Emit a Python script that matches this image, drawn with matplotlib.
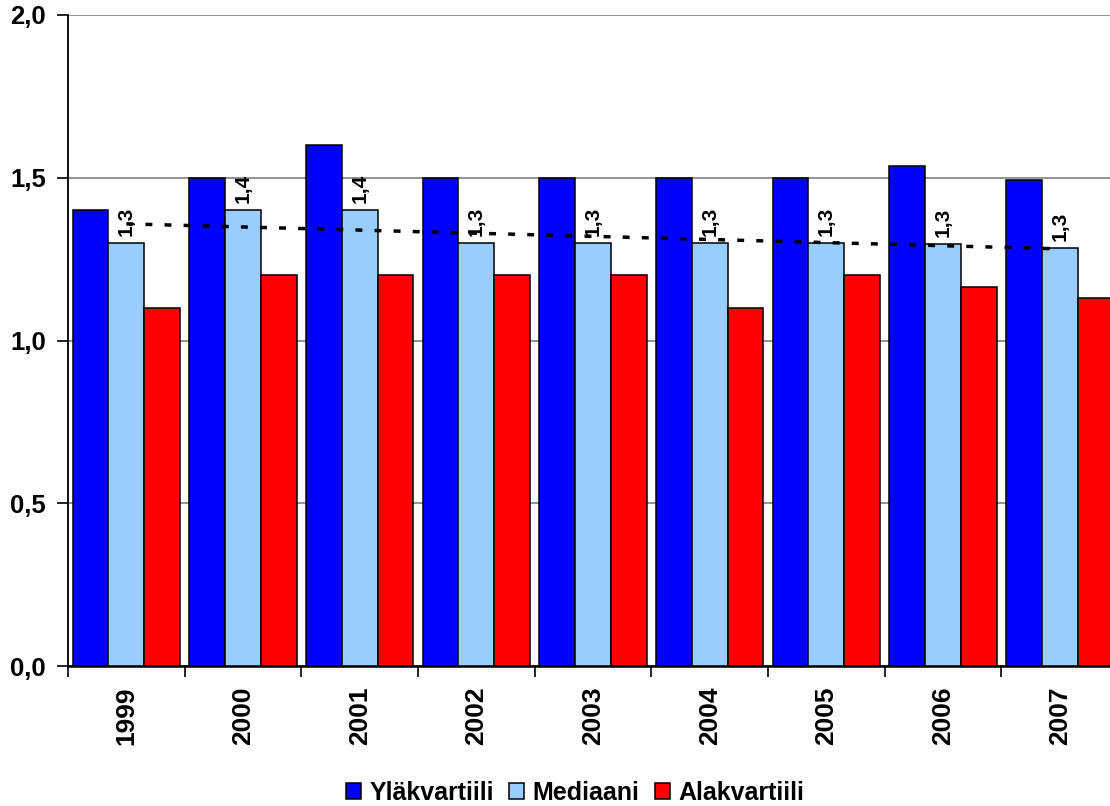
import matplotlib
matplotlib.use("Agg")
import matplotlib.pyplot as plt
import numpy as np
from matplotlib.ticker import FixedLocator, FuncFormatter

years = ["1999", "2000", "2001", "2002", "2003", "2004", "2005", "2006", "2007"]
ylakvartiili = [1.4, 1.5, 1.6, 1.5, 1.5, 1.5, 1.5, 1.536, 1.493]
mediaani = [1.3, 1.4, 1.4, 1.3, 1.3, 1.3, 1.3, 1.296, 1.284]
alakvartiili = [1.1, 1.2, 1.2, 1.2, 1.2, 1.1, 1.2, 1.164, 1.131]
labels = ["Yläkvartiili", "Mediaani", "Alakvartiili"]
colors = ["#0000FF", "#99CCFF", "#FF0000"]

plt.rcParams['font.family'] = ['Liberation Sans', 'DejaVu Sans']
plt.rcParams['font.weight'] = 'bold'

fig = plt.figure(figsize=(11.1, 8.06), dpi=100)
ax = fig.add_axes([68/1110, 140/806, 1050/1110, 651/806])

n = len(years)
x = np.arange(n) + 0.5
w = 0.307
series = [ylakvartiili, mediaani, alakvartiili]
for k, (vals, lab, c) in enumerate(zip(series, labels, colors)):
    ax.bar(x + (k - 1) * w, vals, width=w, color=c, edgecolor="black",
           linewidth=1.1, label=lab, zorder=3)

# data labels on median
for xi, v in zip(x, mediaani):
    ax.annotate(f"{v:.1f}".replace(".", ","), (xi, v), xytext=(0, 7),
                textcoords="offset pixels", rotation=90, ha="center", va="bottom",
                fontsize=15, fontweight="bold", zorder=5)

# linear trend of median
coef = np.polyfit(np.arange(n), mediaani, 1)
trend = np.polyval(coef, np.arange(n))
ax.plot(x, trend, color="black", lw=2.5, linestyle=(0, (2.0, 3.5)), zorder=4)

ax.set_xlim(0, n)
ax.set_ylim(0, 2.0)
ax.set_yticks([0, 0.5, 1.0, 1.5, 2.0])
ax.yaxis.set_major_formatter(FuncFormatter(lambda v, p: f"{v:.1f}".replace(".", ",")))
ax.yaxis.grid(True, color="#808080", linewidth=1.2, zorder=0)
ax.tick_params(axis="y", length=8, width=1.2, pad=8, labelsize=18.5)

ax.set_xticks(x)
ax.set_xticklabels(years, rotation=90, fontsize=19, fontweight="bold")
ax.tick_params(axis="x", which="major", length=0, pad=15)
ax.xaxis.set_minor_locator(FixedLocator(np.arange(n + 1)))
ax.tick_params(axis="x", which="minor", length=8, width=1.2, direction="out")

ax.spines["top"].set_visible(False)
ax.spines["right"].set_visible(False)
ax.spines["left"].set_linewidth(1.3)
ax.spines["bottom"].set_linewidth(1.8)

fig.legend(loc="center", bbox_to_anchor=(575/1110, 1 - 793/806), ncol=3,
           frameon=False, fontsize=18, handlelength=0.6, handleheight=0.6,
           handletextpad=0.35, columnspacing=0.6, borderpad=0)

fig.savefig("out.png", dpi=100)
